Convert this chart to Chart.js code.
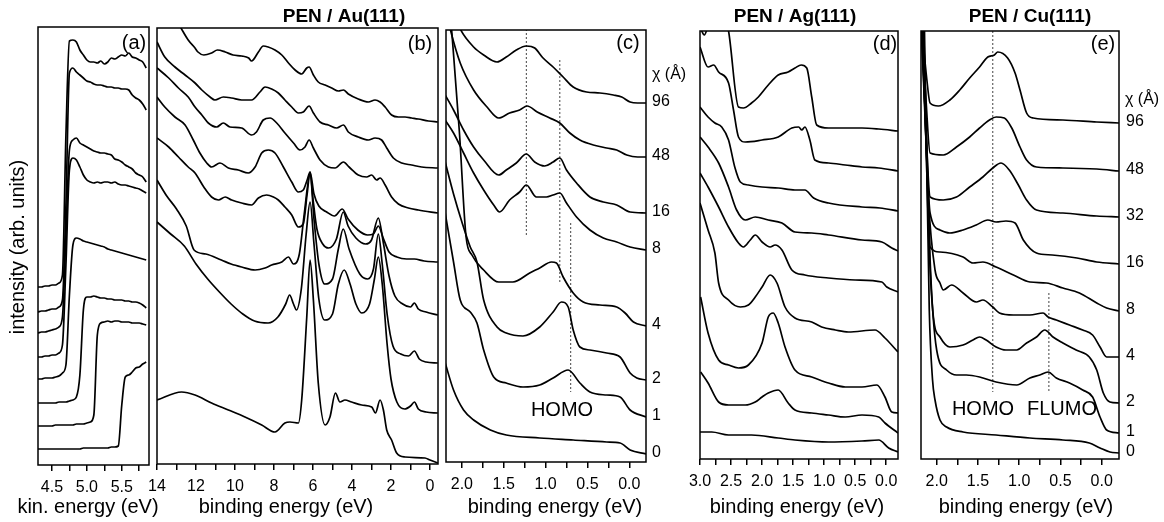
<!DOCTYPE html>
<html>
<head>
<title>PEN UPS spectra</title>
<script src="https://cdn.jsdelivr.net/npm/chart.js"></script>
<style>
  body { margin: 0; background: #fff; }
  #wrap { position: relative; width: 1164px; height: 522px; }
  #wrap canvas { position: absolute; left: 0; top: 0; width: 1164px; height: 522px; }
</style>
</head>
<body>
<div id="wrap">
  <canvas id="pa" width="1164" height="522"></canvas>
  <canvas id="pb" width="1164" height="522"></canvas>
  <canvas id="pc" width="1164" height="522"></canvas>
  <canvas id="pd" width="1164" height="522"></canvas>
  <canvas id="pe" width="1164" height="522"></canvas>
</div>
<script>
// ---- panel (a): kinetic energy grid + 8 spectra (intensity, arb. units) ----
const kinE = [4.30,4.35,4.40,4.45,4.50,4.55,4.60,4.65,4.70,4.75,4.80,4.85,4.90,4.95,5.00,5.05,
              5.10,5.15,5.20,5.25,5.30,5.35,5.40,5.45,5.50,5.55,5.60,5.65,5.70,5.75,5.80,5.85];
const aY1 = [178,178,179,179,180,180,182,190,330,424,425,423,415,410,405,403,403,402,404,401,403,407,406,408,410,409,412,408,407,405,403,397];
const aY2 = [153,154,154,155,156,156,158,165,260,392,397,393,390,387,384,383,381,380,380,379,378,378,377,377,376,376,375,370,367,365,361,355];
const aY3 = [132,133,133,134,135,136,138,148,230,315,325,327,322,320,318,316,314,313,312,312,311,310,306,305,303,300,298,296,292,290,288,283];
const aY4 = [108,108,109,109,110,110,112,120,200,295,307,305,298,290,285,283,282,283,282,283,283,282,283,281,280,280,279,278,277,276,274,272];
const aY5 = [86,86,87,87,87,88,89,92,100,170,220,227,226,224,223,222,221,220,219,218,216,215,214,213,212,211,210,209,208,207,206,205];
const aY6 = [62,62,62,62,62,62,63,63,63,64,65,68,90,155,168,168,169,168,167,167,166,166,165,165,165,164,164,163,163,162,160,157];
const aY7 = [39,39,39,39,39,40,40,40,40,40,40,41,41,41,42,43,50,130,142,143,144,143,144,144,143,143,143,142,142,142,141,140];
const aY8 = [16,16,16,16,16,16,16,16,16,16,16,16,16,17,17,17,17,17,17,17,17,18,18,19,60,88,90,93,97,98,101,103];

// ---- panel (b): PEN / Au(111), [binding energy, intensity] ----
const bS1 = [[12.8,437],[12.4,424],[12.05,416],[11.9,412],[11.6,409],[11.2,411],[10.9,414],[10.5,412],[10.1,409],[9.66,408],[9.3,406],[9.15,403],[8.8,412],[8.55,418],[8.3,417],[7.95,414],[7.6,409],[7.26,401],[6.92,394],[6.58,390],[6.32,396],[6.2,397],[5.98,389],[5.73,382],[5.38,379],[5.04,376],[4.7,373],[4.44,374],[4.19,370],[3.68,365],[3.16,362],[2.82,364],[2.56,362],[2.3,357],[1.97,349],[1.62,347],[1.28,347],[0.94,346],[0.6,345],[0.08,343],[-0.4,342]];
const bS2 = [[14,422],[13.6,407],[13.08,397],[12.56,389],[12.05,381],[11.7,374],[11.28,367],[11.03,364],[10.6,367],[10.17,366],[9.66,364],[9.15,364],[8.72,372],[8.46,377],[8.12,375],[7.78,371],[7.44,364],[7.09,357],[6.75,351],[6.5,352],[6.2,358],[5.98,351],[5.64,342],[5.21,339],[4.79,336],[4.44,339],[4.19,332],[3.68,327],[3.16,324],[2.82,326],[2.48,324],[2.22,316],[1.88,306],[1.45,301],[0.94,299],[0.43,297],[-0.4,296]];
const bS3 = [[14,396],[13.4,386],[12.9,376],[12.4,367],[12.05,357],[11.7,349],[11.37,341],[10.94,337],[10.6,341],[10.26,337],[9.66,336],[9.15,329],[8.9,332],[8.55,344],[8.2,346],[7.86,341],[7.44,331],[7.0,321],[6.67,314],[6.41,317],[6.2,324],[5.98,316],[5.64,304],[5.21,297],[4.87,296],[4.44,302],[4.15,297],[3.68,289],[3.25,287],[2.99,289],[2.74,284],[2.56,286],[2.3,279],[1.97,267],[1.62,260],[1.11,256],[0.6,254],[-0.4,251]];
const bS4 = [[14,367],[13.6,357],[13.08,347],[12.56,339],[12.14,324],[11.8,311],[11.45,301],[11.2,297],[10.77,301],[10.34,296],[9.83,294],[9.32,291],[8.97,297],[8.63,311],[8.29,314],[7.95,311],[7.52,297],[7.09,282],[6.75,272],[6.5,274],[6.3,284],[6.15,292],[5.95,270],[5.7,258],[5.3,252],[4.9,248],[4.5,255],[4.2,245],[3.7,234],[3.2,229],[2.9,230],[2.65,238],[2.4,226],[2.1,212],[1.7,207],[1.2,205],[0.8,205],[0.3,203],[-0.4,202]];
const bS5 = [[14,326],[13.4,317],[12.9,307],[12.4,297],[12.05,291],[11.6,277],[11.2,267],[10.85,264],[10.5,267],[10.17,264],[9.66,261],[9.15,259],[8.8,266],[8.38,269],[8.03,267],[7.78,264],[7.44,257],[7.09,249],[6.75,237],[6.5,240],[6.3,270],[6.15,292],[6.0,265],[5.8,235],[5.5,220],[5.2,216],[4.8,225],[4.45,252],[4.2,238],[3.8,226],[3.3,220],[3.0,224],[2.65,246],[2.4,222],[2.1,188],[1.8,168],[1.4,160],[1.0,157],[0.8,161],[0.6,155],[0.2,152],[-0.4,149]];
const bS6 = [[14,284],[13.5,268],[13,255],[12.5,238],[12.1,214],[11.5,210],[10.7,204],[10.2,200],[9.66,197],[8.97,194],[8.46,196],[8.12,199],[7.6,202],[7.26,207],[7.0,200],[6.7,210],[6.45,250],[6.15,290],[5.95,245],[5.7,200],[5.4,180],[5.0,185],[4.7,215],[4.45,235],[4.15,215],[3.6,190],[3.2,185],[2.9,195],[2.65,230],[2.45,200],[2.2,150],[1.9,118],[1.5,110],[1.1,108],[0.8,113],[0.55,105],[0.2,102],[-0.4,101]];
const bS7 = [[14,242],[13.3,230],[12.6,218],[12.0,200],[11.4,185],[10.8,172],[10.2,160],[9.6,150],[9.0,143],[8.3,141],[7.8,147],[7.4,160],[7.2,169],[7.0,160],[6.85,154],[6.6,175],[6.35,230],[6.15,262],[5.95,220],[5.7,165],[5.4,144],[5.0,150],[4.7,180],[4.4,194],[4.1,180],[3.8,160],[3.5,151],[3.1,160],[2.85,185],[2.65,207],[2.45,180],[2.2,120],[2.0,85],[1.7,62],[1.3,55],[1.0,58],[0.8,62],[0.6,55],[0.2,52],[-0.4,51]];
const bS8 = [[14,64],[12.74,72],[12.05,69],[11.2,61],[10.34,54],[9.49,47],[8.63,39],[7.95,32],[7.44,41],[7.18,42],[6.75,41],[6.58,64],[6.32,147],[6.15,204],[5.98,164],[5.73,81],[5.38,39],[5.13,47],[4.85,71],[4.62,62],[4.36,64],[4.02,62],[3.5,59],[2.99,57],[2.8,51],[2.56,64],[2.39,54],[2.22,34],[1.97,24],[1.71,11],[1.28,7],[0.26,6],[0,4],[-0.4,1]];

// ---- panel (c): PEN / Au(111), near the Fermi level ----
const cCoverage = ['96','48','16','8','4','2','1','0'];
const cS1 = [[2.1,450],[2.02,433],[1.86,415],[1.74,407],[1.58,400],[1.47,405],[1.35,412],[1.23,416],[1.13,414],[1.03,404],[0.91,395],[0.79,385],[0.67,375],[0.51,370],[0.35,369],[0.19,367],[0.09,365],[-0.01,360],[-0.1,359],[-0.2,359]];
const cS2 = [[2.2,455],[2.14,433],[2.02,399],[1.86,372],[1.7,355],[1.56,344],[1.43,349],[1.31,352],[1.22,356],[1.1,350],[0.95,344],[0.83,339],[0.71,329],[0.59,322],[0.43,317],[0.27,314],[0.15,312],[0.03,307],[-0.1,305],[-0.2,305]];
const cS3 = [[2.2,367],[2.1,352],[1.98,332],[1.86,315],[1.74,302],[1.56,287],[1.47,292],[1.35,299],[1.23,308],[1.13,300],[1.01,296],[0.91,300],[0.83,304],[0.75,292],[0.63,279],[0.47,265],[0.31,260],[0.15,257],[-0.01,250],[-0.2,249]];
const cS4 = [[2.2,342],[2.1,329],[1.98,309],[1.86,289],[1.74,272],[1.62,257],[1.55,250],[1.43,262],[1.31,270],[1.23,277],[1.11,265],[0.99,265],[0.91,267],[0.83,269],[0.75,259],[0.63,245],[0.47,232],[0.31,224],[0.15,220],[-0.01,215],[-0.2,212]];
const cS5 = [[2.13,440],[2.03,330],[1.95,225],[1.88,207],[1.74,192],[1.56,180],[1.39,180],[1.19,189],[1.07,194],[0.93,200],[0.87,199],[0.79,185],[0.67,169],[0.55,160],[0.35,157],[0.15,155],[0.05,149],[-0.05,140],[-0.2,136]];
const cS6 = [[2.2,300],[2.1,268],[2.0,240],[1.9,215],[1.82,200],[1.74,162],[1.58,135],[1.47,129],[1.27,126],[1.07,135],[0.91,150],[0.81,160],[0.73,155],[0.67,132],[0.59,115],[0.47,112],[0.27,109],[0.11,105],[-0.01,89],[-0.09,84],[-0.2,82]];
const cS7 = [[2.2,249],[2.1,200],[2.02,162],[1.9,150],[1.82,139],[1.74,112],[1.62,85],[1.47,79],[1.27,75],[1.07,77],[0.91,84],[0.73,92],[0.59,79],[0.47,70],[0.27,67],[0.11,65],[-0.01,52],[-0.2,45]];
const cS8 = [[2.2,99],[2.1,72],[1.98,52],[1.86,42],[1.66,32],[1.47,27],[1.07,24],[0.67,22],[0.27,20],[0.11,19],[-0.01,12],[-0.2,8]];
// dotted markers: [energy, top, bottom]
const cMarks = [[1.23,433,225],[0.83,402,180],[0.70,239,70]];

// ---- panel (d): PEN / Ag(111) ----
const dS1 = [[3.0,432],[2.93,424],[2.87,432],[2.6,440],[2.54,428],[2.38,352],[2.3,351],[2.17,356],[2.06,362],[1.9,374],[1.74,384],[1.58,387],[1.47,391],[1.37,394],[1.28,391],[1.2,362],[1.12,334],[0.93,331],[0.66,331],[0.39,331],[0.12,330],[-0.19,328]];
const dS2 = [[3.0,412],[2.87,392],[2.78,394],[2.7,387],[2.54,376],[2.46,349],[2.38,322],[2.27,317],[2.0,319],[1.74,322],[1.52,331],[1.41,332],[1.36,329],[1.31,332],[1.23,319],[1.15,299],[0.93,296],[0.66,294],[0.39,292],[0.12,291],[-0.19,288]];
const dS3 = [[3.0,352],[2.87,342],[2.76,336],[2.65,332],[2.54,319],[2.44,292],[2.35,277],[2.22,274],[2.0,272],[1.74,271],[1.47,269],[1.31,269],[1.17,261],[0.93,256],[0.39,252],[0.1,251],[-0.19,248]];
const dS4 = [[3.0,322],[2.87,312],[2.7,296],[2.54,272],[2.41,249],[2.27,239],[2.11,242],[1.9,239],[1.68,236],[1.47,227],[1.2,226],[0.93,224],[0.39,219],[0.07,217],[-0.09,211],[-0.19,208]];
const dS5 = [[3.0,286],[2.87,272],[2.7,252],[2.54,232],[2.38,216],[2.3,212],[2.19,219],[2.11,224],[2.0,217],[1.87,212],[1.79,214],[1.68,209],[1.52,189],[1.31,184],[0.93,181],[0.5,179],[0.07,177],[-0.01,172],[-0.19,167]];
const dS6 = [[3.0,256],[2.87,229],[2.76,206],[2.7,176],[2.54,159],[2.35,152],[2.22,154],[2.11,162],[2.0,172],[1.87,184],[1.76,176],[1.63,152],[1.47,141],[1.2,137],[1.04,132],[0.82,129],[0.61,127],[0.18,129],[0.02,121],[-0.19,107]];
const dS7 = [[2.99,162],[2.87,126],[2.7,99],[2.54,94],[2.38,91],[2.22,94],[2.0,116],[1.9,142],[1.82,146],[1.74,136],[1.63,112],[1.47,89],[1.2,82],[0.93,76],[0.66,72],[0.39,72],[0.15,74],[0.02,62],[-0.09,47],[-0.19,46]];
const dS8 = [[2.99,87],[2.87,76],[2.7,57],[2.54,54],[2.27,54],[2.11,57],[2.0,62],[1.9,66],[1.74,69],[1.58,56],[1.47,49],[1.2,46],[0.93,44],[0.66,42],[0.39,44],[0.12,42],[0.02,36],[-0.19,26]];
const dS9 = [[3.0,27],[2.81,27],[2.54,24],[2.17,24],[1.74,21],[1.47,19],[0.93,17],[0.39,18],[0.12,19],[-0.04,11],[-0.19,7]];

// ---- panel (e): PEN / Cu(111) ----
const eCoverage = ['96','48','32','16','8','4','2','1','0'];
const eS1 = [[2.19,440],[2.12,380],[2.08,356],[1.98,353],[1.84,359],[1.72,369],[1.6,381],[1.48,392],[1.38,402],[1.3,404],[1.26,407],[1.14,401],[1.05,386],[0.99,369],[0.91,346],[0.83,341],[0.47,339],[0.06,337],[-0.21,336]];
const eS2 = [[2.19,440],[2.13,360],[2.08,306],[1.92,304],[1.76,312],[1.6,322],[1.48,331],[1.36,339],[1.28,342],[1.18,341],[1.09,331],[0.99,312],[0.91,299],[0.79,292],[0.47,291],[0.06,290],[-0.21,288]];
const eS3 = [[2.19,440],[2.13,330],[2.08,262],[1.92,259],[1.76,262],[1.6,272],[1.44,282],[1.32,291],[1.22,296],[1.12,289],[1.01,274],[0.91,259],[0.79,249],[0.47,246],[0.06,243],[-0.21,242]];
const eS4 = [[2.19,440],[2.13,320],[2.08,246],[1.96,229],[1.84,226],[1.68,229],[1.52,234],[1.38,239],[1.28,237],[1.16,238],[1.05,236],[0.95,219],[0.79,206],[0.6,204],[0.3,201],[0.06,197],[-0.21,195]];
const eS5 = [[2.18,440],[2.12,300],[2.08,212],[1.96,207],[1.68,202],[1.56,196],[1.44,197],[1.28,192],[1.07,184],[0.87,177],[0.67,176],[0.47,171],[0.27,166],[0.06,156],[-0.06,151],[-0.21,148]];
const eS6 = [[2.18,440],[2.1,260],[2.02,189],[1.96,176],[1.92,169],[1.82,174],[1.68,166],[1.52,157],[1.44,159],[1.32,152],[1.24,146],[1.07,144],[0.87,144],[0.71,146],[0.65,142],[0.55,139],[0.39,134],[0.23,129],[0.11,124],[0.02,112],[-0.06,102],[-0.21,102]];
const eS7 = [[2.17,440],[2.1,230],[2.04,142],[1.96,122],[1.84,112],[1.68,114],[1.56,119],[1.48,122],[1.4,119],[1.28,112],[1.16,109],[1.03,109],[0.91,116],[0.79,122],[0.69,129],[0.59,122],[0.47,116],[0.31,109],[0.15,102],[0.06,89],[-0.02,66],[-0.1,57],[-0.21,56]];
const eS8 = [[2.16,440],[2.08,200],[2.0,109],[1.88,89],[1.76,84],[1.64,84],[1.48,82],[1.28,77],[1.03,74],[0.87,81],[0.75,84],[0.65,87],[0.55,81],[0.39,76],[0.23,69],[0.11,62],[0.02,42],[-0.06,29],[-0.21,26]];
const eS9 = [[2.15,440],[2.09,150],[2.05,79],[2.02,59],[1.96,39],[1.88,32],[1.68,27],[1.28,24],[0.87,21],[0.47,19],[0.15,16],[0.02,11],[-0.1,7],[-0.21,6]];
const eMarks = [[1.32,428,67],[0.64,166,67]];

// ---- axis ticks ----
const aTicks = [4.5,4.75,5.0,5.25,5.5,5.75];
const aTickLabels = ['4.5','','5.0','','5.5',''];
const bTicks = [14,13,12,11,10,9,8,7,6,5,4,3,2,1,0];
const bTickLabels = ['14','','12','','10','','8','','6','','4','','2','','0'];
const fineTicks = [2.0,1.75,1.5,1.25,1.0,0.75,0.5,0.25,0.0];
const fineTickLabels = ['2.0','','1.5','','1.0','','0.5','','0.0'];
const dTicks = [3.0,2.75,2.5,2.25,2.0,1.75,1.5,1.25,1.0,0.75,0.5,0.25,0.0];
const dTickLabels = ['3.0','','2.5','','2.0','','1.5','','1.0','','0.5','','0.0'];

const FONT = "'Liberation Sans', Arial, Helvetica, sans-serif";

function framePlugin(texts, sideLabels) {
  return {
    id: 'frame',
    afterDraw(chart) {
      const ctx = chart.ctx, a = chart.chartArea;
      ctx.save();
      ctx.strokeStyle = '#000';
      ctx.lineWidth = 1.5;
      ctx.strokeRect(a.left, a.top, a.right - a.left, a.bottom - a.top);
      ctx.fillStyle = '#000';
      ctx.textBaseline = 'middle';
      texts.forEach(t => {
        ctx.font = t.font;
        ctx.textAlign = t.align || 'center';
        if (t.rot) {
          ctx.save();
          ctx.translate(t.x, t.y);
          ctx.rotate(t.rot);
          ctx.fillText(t.text, 0, 0);
          ctx.restore();
        } else {
          ctx.fillText(t.text, t.x, t.y);
        }
      });
      if (sideLabels) {
        const ys = chart.scales.y;
        ctx.font = '16px ' + FONT;
        ctx.textAlign = 'left';
        sideLabels.names.forEach((n, i) => {
          const last = sideLabels.curves[i][sideLabels.curves[i].length - 1];
          ctx.fillText(n, sideLabels.x, ys.getPixelForValue(last[1]) - 1);
        });
      }
      ctx.restore();
    }
  };
}

function makePanel(id, box, xmin, xmax, reverse, ticks, tickLabels, curves, marks, texts, sideLabels) {
  const datasets = curves.map(c => ({
    data: c.map(p => ({x: p[0], y: p[1]})),
    borderColor: '#000', borderWidth: 1.7, pointRadius: 0, fill: false,
    cubicInterpolationMode: 'monotone'
  }));
  (marks || []).forEach(m => datasets.push({
    data: [{x: m[0], y: m[1]}, {x: m[0], y: m[2]}],
    borderColor: '#444', borderWidth: 1, borderDash: [2, 2], pointRadius: 0, fill: false, tension: 0
  }));
  return new Chart(document.getElementById(id), {
    type: 'line',
    data: { datasets },
    options: {
      responsive: false, animation: false, devicePixelRatio: 1,
      events: [],
      layout: { padding: { left: box.l, right: 1164 - box.r, top: box.t, bottom: 0 } },
      plugins: { legend: { display: false }, tooltip: { enabled: false } },
      scales: {
        x: {
          type: 'linear', min: xmin, max: xmax, reverse,
          afterFit: s => { s.height = 522 - box.b; },
          afterBuildTicks: s => { s.ticks = ticks.map(v => ({value: v})); },
          border: { display: false },
          grid: { display: true, drawOnChartArea: false, drawTicks: true, tickLength: 6, color: '#000', lineWidth: 1.5 },
          ticks: { autoSkip: false, maxRotation: 0, padding: 7, color: '#000',
                   font: { family: FONT, size: 16 }, callback: (v, i) => tickLabels[i] }
        },
        y: { display: false, min: 0, max: box.b - box.t }
      }
    },
    plugins: [framePlugin(texts, sideLabels)]
  });
}

const t20 = '20px ' + FONT, tb19 = 'bold 19px ' + FONT, t16 = '16px ' + FONT;

makePanel('pa', {l: 38, r: 149, t: 27, b: 465}, 4.3, 5.89, false, aTicks, aTickLabels,
  [aY1, aY2, aY3, aY4, aY5, aY6, aY7, aY8].map(ys => ys.map((y, i) => [kinE[i], y])), null,
  [{text: 'intensity (arb. units)', x: 18, y: 247, font: t20, rot: -Math.PI / 2},
   {text: 'kin. energy (eV)', x: 88, y: 507, font: t20},
   {text: '(a)', x: 134, y: 43, font: t20}]);

makePanel('pb', {l: 157, r: 438, t: 28, b: 464}, -0.41, 14, true, bTicks, bTickLabels,
  [bS1, bS2, bS3, bS4, bS5, bS6, bS7, bS8], null,
  [{text: 'PEN / Au(111)', x: 344, y: 17, font: tb19},
   {text: 'binding energy (eV)', x: 286, y: 507, font: t20},
   {text: '(b)', x: 420, y: 44, font: t20}]);

makePanel('pc', {l: 446, r: 646, t: 30, b: 462}, -0.2, 2.19, true, fineTicks, fineTickLabels,
  [cS1, cS2, cS3, cS4, cS5, cS6, cS7, cS8], cMarks,
  [{text: 'binding energy (eV)', x: 555, y: 507, font: t20},
   {text: '(c)', x: 628, y: 43, font: t20},
   {text: 'χ (Å)', x: 652, y: 75, font: t16, align: 'left'},
   {text: 'HOMO', x: 562, y: 410, font: t20}],
  {names: cCoverage, curves: [cS1, cS2, cS3, cS4, cS5, cS6, cS7, cS8], x: 652});

makePanel('pd', {l: 700, r: 898, t: 31, b: 459}, -0.19, 3.0, true, dTicks, dTickLabels,
  [dS1, dS2, dS3, dS4, dS5, dS6, dS7, dS8, dS9], null,
  [{text: 'PEN / Ag(111)', x: 795, y: 17, font: tb19},
   {text: 'binding energy (eV)', x: 797, y: 507, font: t20},
   {text: '(d)', x: 885, y: 44, font: t20}]);

makePanel('pe', {l: 921, r: 1119, t: 31, b: 459}, -0.21, 2.19, true, fineTicks, fineTickLabels,
  [eS1, eS2, eS3, eS4, eS5, eS6, eS7, eS8, eS9], eMarks,
  [{text: 'PEN / Cu(111)', x: 1030, y: 17, font: tb19},
   {text: 'binding energy (eV)', x: 1026, y: 507, font: t20},
   {text: '(e)', x: 1103, y: 44, font: t20},
   {text: 'χ (Å)', x: 1125, y: 100, font: t16, align: 'left'},
   {text: 'HOMO', x: 983, y: 409, font: t20},
   {text: 'FLUMO', x: 1062, y: 409, font: t20}],
  {names: eCoverage, curves: [eS1, eS2, eS3, eS4, eS5, eS6, eS7, eS8, eS9], x: 1126});
</script>
</body>
</html>
